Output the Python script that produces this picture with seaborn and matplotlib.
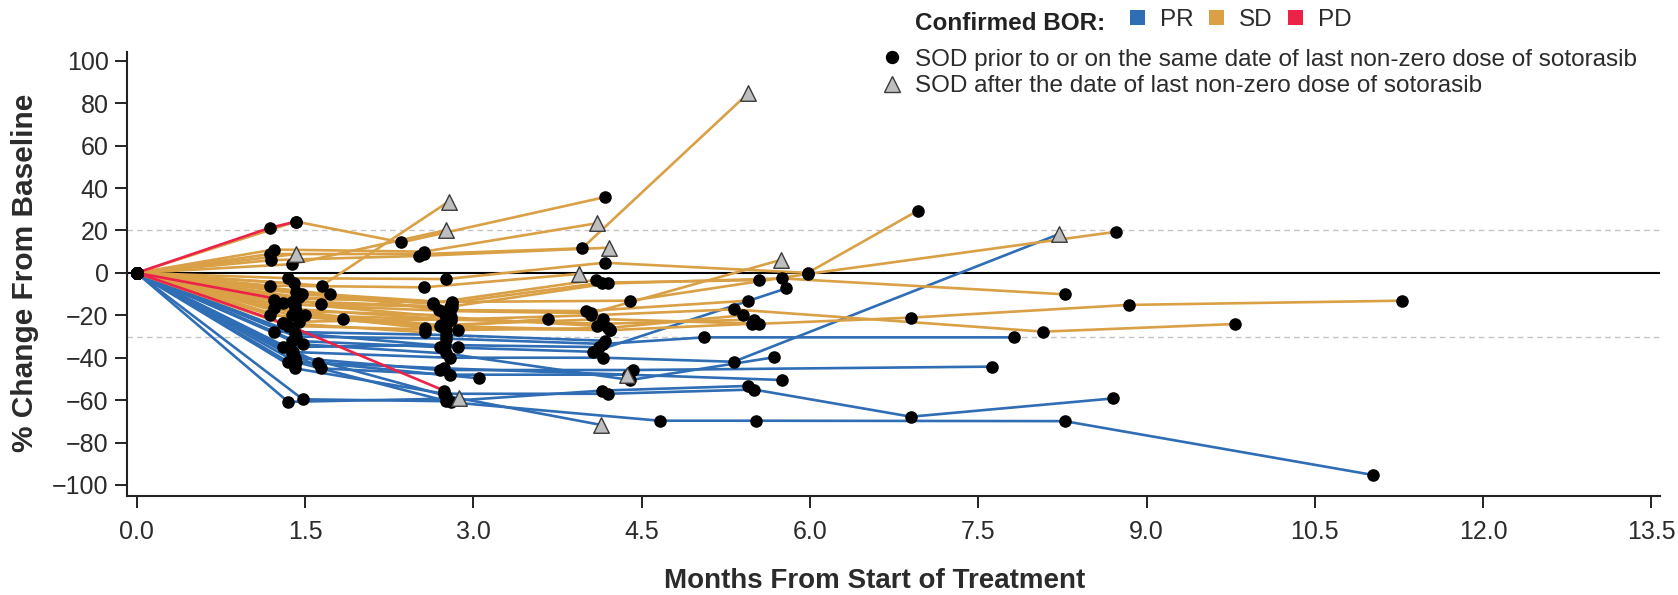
import numpy as np
import pandas as pd
import matplotlib
matplotlib.use("Agg")
import matplotlib.pyplot as plt
import seaborn as sns
from matplotlib.patches import Patch
from matplotlib.lines import Line2D

# ---------------- data ----------------
BASELINE_MONTH = 0.0
BASELINE_PCT = 0.0

PR_MONTHS = [
    [1.42, 2.76, 4.16, 5.06, 7.82],
    [1.38, 2.70, 4.07, 5.79],
    [1.39, 2.79, 4.16, 5.32, 8.22],
    [1.41, 2.70, 4.42, 7.62],
    [1.48, 2.76, 4.40, 5.68],
    [1.64, 2.79, 4.37],
    [1.62, 3.05],
    [1.35, 2.74, 4.38, 5.75],
    [1.48, 2.76, 4.15, 5.45],
    [1.35, 2.87],
    [1.41, 2.74, 4.20, 5.50, 6.90, 8.70],
    [1.38, 2.76, 4.14],
    [1.42, 2.80, 4.66, 5.52, 8.27, 11.02],
    [1.22, 2.76, 4.17],
    [1.41, 2.86],
    [1.30, 2.75, 4.12],
]
PR_PCT = [
    [-30.0, -31.0, -33.5, -30.4, -30.4],
    [-32.0, -35.0, -37.2, -7.3],
    [-37.3, -40.0, -40.0, -41.9, 18.3],
    [-40.0, -45.8, -45.8, -44.2],
    [-33.7, -38.0, -50.5, -39.8],
    [-45.0, -48.0, -48.0],
    [-42.4, -49.7],
    [-41.9, -45.0, -48.0, -50.5],
    [-59.6, -60.5, -55.5, -53.3],
    [-60.8, -59.2],
    [-45.0, -57.0, -57.0, -55.0, -67.8, -59.2],
    [-38.0, -58.0, -71.7],
    [-42.0, -61.0, -69.7, -69.7, -69.9, -95.3],
    [-27.7, -29.3, -32.0],
    [-28.4, -35.0],
    [-35.0, -34.0, -35.0],
]
PR_AFTER = [
    [0, 0, 0, 0, 0], [0, 0, 0, 0], [0, 0, 0, 0, 1], [0, 0, 0, 0],
    [0, 0, 0, 0], [0, 0, 1], [0, 0], [0, 0, 0, 0], [0, 0, 0, 0],
    [0, 1], [0, 0, 0, 0, 0, 0], [0, 0, 1], [0, 0, 0, 0, 0, 0],
    [0, 0, 0], [0, 0], [0, 0, 0],
]

SD_MONTHS = [
    [1.19, 2.56, 3.97, 5.45],
    [1.42, 2.36, 4.17],
    [1.42],
    [1.38, 2.76],
    [1.65, 2.78],
    [1.22, 2.56, 4.10],
    [1.20, 2.52, 4.21],
    [1.35, 2.76, 4.17, 5.98, 6.96],
    [1.42, 2.81, 4.40, 5.98, 8.73],
    [1.41, 2.79, 4.05, 5.74],
    [1.19, 2.56, 3.94],
    [1.42, 2.81, 4.15, 5.55],
    [1.45, 2.64, 4.09],
    [1.64, 2.79, 4.20, 5.75, 8.27],
    [1.72, 2.69, 4.00, 5.45],
    [1.41, 2.79, 4.05, 5.32, 8.08, 9.79],
    [1.41, 2.71, 4.16, 5.55, 6.90, 8.84, 11.28],
    [1.84, 2.57, 3.67],
    [1.22, 2.76, 4.20, 5.40],
    [1.19, 2.70, 4.22],
    [1.30, 2.57],
    [1.35, 2.86],
    [1.42, 2.75],
    [1.50, 2.80],
    [1.47, 2.64],
    [1.40],
    [1.45, 2.79, 4.16, 5.50],
    [1.38, 2.74, 4.22, 5.48],
    [1.30, 2.80, 4.10],
    [1.22, 2.81],
]
SD_PCT = [
    [8.9, 8.9, 11.6, 84.7],
    [24.2, 14.4, 35.7],
    [8.9],
    [4.1, 20.2],
    [-6.0, 33.6],
    [11.0, 10.0, 23.4],
    [6.0, 8.0, 11.9],
    [-2.5, -2.9, 4.8, 0.0, 29.3],
    [-12.0, -13.7, -13.1, -0.5, 19.4],
    [-15.0, -18.0, -19.0, 6.1],
    [-6.0, -6.8, -0.5],
    [-9.2, -14.0, -4.6, -3.4],
    [-11.5, -14.2, -3.3],
    [-14.8, -16.0, -5.0, -2.6, -10.1],
    [-10.1, -17.5, -18.0, -13.1],
    [-17.0, -22.0, -20.0, -17.2, -27.7, -24.1],
    [-19.0, -24.6, -21.8, -24.0, -21.1, -15.1, -13.1],
    [-21.9, -26.0, -21.7],
    [-16.7, -27.0, -26.0, -20.0],
    [-19.9, -25.0, -27.0],
    [-23.6, -28.0],
    [-25.0, -27.0],
    [-18.0, -20.0],
    [-20.0, -22.0],
    [-10.0, -14.5],
    [-5.0],
    [-23.0, -22.0, -24.0, -22.0],
    [-20.0, -26.0, -27.0, -24.0],
    [-14.0, -21.0, -25.0],
    [-13.0, -16.0],
]
SD_AFTER = [
    [0, 0, 0, 1], [0, 0, 0], [1], [0, 1], [0, 1], [0, 0, 1], [0, 0, 1],
    [0, 0, 0, 0, 0], [0, 0, 0, 0, 0], [0, 0, 0, 1], [0, 0, 1],
    [0, 0, 0, 0], [0, 0, 0], [0, 0, 0, 0, 0], [0, 0, 0, 0],
    [0, 0, 0, 0, 0, 0], [0, 0, 0, 0, 0, 0, 0], [0, 0, 0], [0, 0, 0, 0],
    [0, 0, 0], [0, 0], [0, 0], [0, 0], [0, 0], [0, 0], [0],
    [0, 0, 0, 0], [0, 0, 0, 0], [0, 0, 0], [0, 0],
]

PD_MONTHS = [[1.19, 1.42], [1.30, 2.74], [1.38]]
PD_PCT = [[21.3, 24.2], [-23.6, -55.5], [-13.5]]
PD_AFTER = [[0, 0], [0, 0], [0]]

BOR_LEVELS = ["PR", "SD", "PD"]
BOR_COLORS = {"PR": "#2F6DB5", "SD": "#D9A045", "PD": "#EC2249"}
XTICKS = [0.0, 1.5, 3.0, 4.5, 6.0, 7.5, 9.0, 10.5, 12.0, 13.5]
YTICKS = list(range(-100, 101, 20))
REF_LINES = [20, -30]

# ---------------- build long table ----------------
rows = []
pid = 0
for bor, M, P, A in [("PR", PR_MONTHS, PR_PCT, PR_AFTER),
                     ("SD", SD_MONTHS, SD_PCT, SD_AFTER),
                     ("PD", PD_MONTHS, PD_PCT, PD_AFTER)]:
    for ms, ps, afs in zip(M, P, A):
        rows.append((pid, bor, BASELINE_MONTH, BASELINE_PCT, 0))
        for m, p, a in zip(ms, ps, afs):
            rows.append((pid, bor, m, p, a))
        pid += 1
df = pd.DataFrame(rows, columns=["pid", "bor", "month", "pct", "after"])

# ---------------- style ----------------
sns.set_theme(style="ticks")
plt.rcParams["font.family"] = ["Liberation Sans", "DejaVu Sans"]

W, H = 1678, 595
fig = plt.figure(figsize=(W / 100, H / 100), dpi=100)
ax_l, ax_r, ax_t, ax_b = 126.7, 1660.0, 51.7, 496.0
ax = fig.add_axes([ax_l / W, 1 - ax_b / H, (ax_r - ax_l) / W, (ax_b - ax_t) / H])

# reference lines
ax.axhline(0, color="black", lw=1.5, zorder=1)
for r in REF_LINES:
    ax.axhline(r, color="#C4C4C4", lw=1.0, ls=(0, (4, 3)), zorder=1)

sns.lineplot(data=df, x="month", y="pct", hue="bor", units="pid",
             estimator=None, sort=False, hue_order=BOR_LEVELS,
             palette=BOR_COLORS, lw=1.9, legend=False, ax=ax, zorder=2)

sns.scatterplot(data=df[df["after"] == 0], x="month", y="pct", color="black",
                s=82, edgecolor="black", linewidth=0, legend=False, ax=ax, zorder=4)
sns.scatterplot(data=df[df["after"] == 1], x="month", y="pct", marker="^",
                color="#BEBEBE", edgecolor="#3A3A3A", linewidth=1.0, s=125,
                legend=False, ax=ax, zorder=5)

ax.set_xlim(-0.089, 13.576)
ax.set_ylim(-105.2, 104.3)
ax.set_xticks(XTICKS)
ax.set_xticklabels([f"{t:.1f}" for t in XTICKS])
ax.set_yticks(YTICKS)
ax.tick_params(axis="both", direction="out", length=8.5, width=1.4,
               color="#222222", labelcolor="#2B2B2B", labelsize=18)
ax.tick_params(axis="x", pad=9)
ax.tick_params(axis="y", pad=4.5)
sns.despine(ax=ax)
for s in ["left", "bottom"]:
    ax.spines[s].set_linewidth(1.5)
    ax.spines[s].set_color("#222222")
ax.set_xlabel("")
ax.set_ylabel("")

fig.text(875 / W, 1 - 581 / H, "Months From Start of Treatment",
         fontsize=20, fontweight="bold", color="#2B2B2B", ha="center", va="center")
fig.text(25 / W, 1 - 273 / H, "% Change From Baseline", rotation=90,
         fontsize=21.5, fontweight="bold", color="#2B2B2B", ha="center", va="center")

# legend row 1
fig.text(915 / W, 1 - 30 / H, "Confirmed BOR:", fontsize=17.5, fontweight="bold",
         color="#222222", ha="left", va="baseline")
h1 = [Patch(facecolor=BOR_COLORS[b], edgecolor="none") for b in BOR_LEVELS]
leg1 = fig.legend(h1, BOR_LEVELS, ncol=3, fontsize=17.5, handlelength=0.62,
                  handleheight=0.62, handletextpad=0.6, columnspacing=0.65,
                  frameon=False, borderpad=0, borderaxespad=0,
                  loc="center left", bbox_to_anchor=(1130 / W, 1 - 20 / H),
                  bbox_transform=fig.transFigure)
for t in leg1.get_texts():
    t.set_color("#2B2B2B")

h2 = [Line2D([], [], marker="o", color="black", ls="none", ms=8.6),
      Line2D([], [], marker="^", mfc="#BEBEBE", mec="#3A3A3A", ls="none", ms=11)]
l2 = ["SOD prior to or on the same date of last non-zero dose of sotorasib",
      "SOD after the date of last non-zero dose of sotorasib"]
leg2 = fig.legend(h2, l2, fontsize=17.5, handlelength=1.0, handletextpad=0.45,
                  labelspacing=0.2, frameon=False, borderpad=0, borderaxespad=0,
                  loc="upper left", bbox_to_anchor=(880 / W, 1 - 48.5 / H),
                  bbox_transform=fig.transFigure)
for t in leg2.get_texts():
    t.set_color("#2B2B2B")

fig.savefig("out.png", dpi=100)
